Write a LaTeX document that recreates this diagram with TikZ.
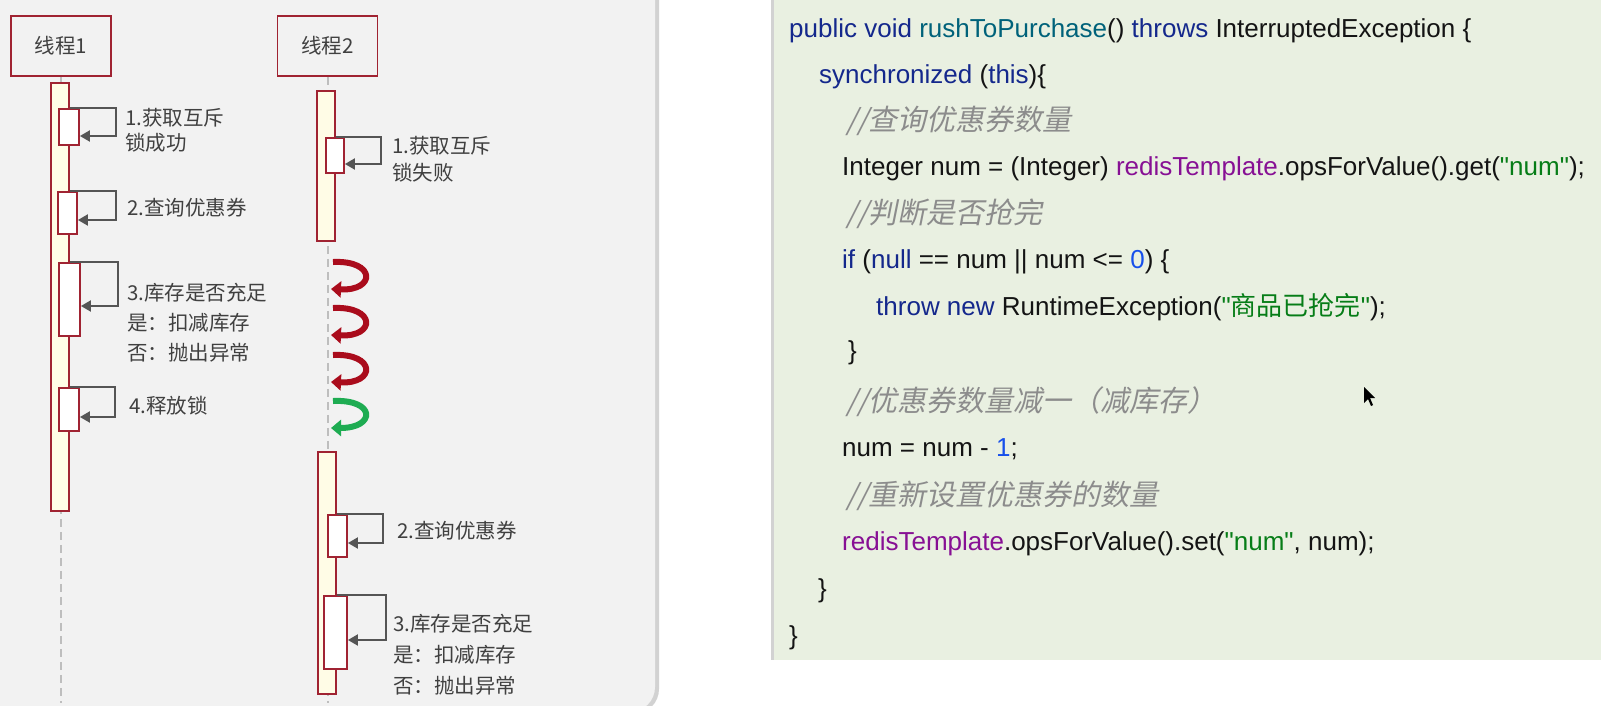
\documentclass[tikz,border=0pt]{standalone}
\usepackage{fontspec}
\setmainfont{Liberation Sans}
\newfontfamily\cjk{Noto Sans CJK SC}
\newfontfamily\cjkit[FakeSlant=0.2]{Noto Sans CJK SC}
\usepackage{xcolor}
\usepackage{tikz}
\usetikzlibrary{arrows.meta, positioning, calc}
\definecolor{panelgray}{RGB}{242,242,242}
\definecolor{panelshadow}{RGB}{210,210,210}
\definecolor{codebg}{RGB}{233,240,225}
\definecolor{myred}{RGB}{160,35,50}
\definecolor{barfill}{RGB}{255,252,230}
\definecolor{loopgray}{RGB}{85,85,85}
\definecolor{lifegray}{RGB}{190,190,190}
\definecolor{txtgray}{RGB}{64,64,64}
\definecolor{arrowred}{RGB}{170,12,28}
\definecolor{arrowgreen}{RGB}{30,172,82}
\definecolor{kwblue}{RGB}{20,40,140}
\definecolor{methteal}{RGB}{0,98,122}
\definecolor{purp}{RGB}{135,16,148}
\definecolor{strgreen}{RGB}{6,125,23}
\definecolor{numblue}{RGB}{23,80,235}
\definecolor{cmtgray}{RGB}{140,140,140}
\definecolor{codetxt}{RGB}{20,20,20}
\newcommand{\dq}{\XeTeXglyph\XeTeXcharglyph"22\relax}
\tikzset{
  thread/.style={rectangle, draw=myred, fill=panelgray, minimum width=100pt,
    minimum height=60pt, line width=1.5pt, text=txtgray,
    font=\cjk\fontsize{20.5}{24}\selectfont},
  actbar/.style={rectangle, draw=myred, fill=barfill, minimum width=18pt,
    line width=1.8pt, inner sep=0pt},
  callbox/.style={rectangle, draw=myred, fill=white, minimum width=19pt,
    line width=1.8pt, inner sep=0pt},
  callarrow/.style={-{Triangle[length=10pt,width=11pt]}, line width=2pt, color=loopgray},
  lifeline/.style={dash pattern=on 8pt off 5pt, line width=2pt, color=lifegray},
  steplabel/.style={anchor=north west, inner sep=0pt, align=left, text=txtgray,
    font=\cjk\fontsize{20.5}{25}\selectfont},
  spinred/.style={-{Triangle[length=10pt,width=16pt]}, line width=6pt, color=arrowred},
  spingreen/.style={-{Triangle[length=10pt,width=16pt]}, line width=6pt, color=arrowgreen},
  codeline/.style={anchor=base west, inner sep=0pt, text=codetxt,
    font=\fontsize{26}{30}\selectfont},
  codecmt/.style={anchor=base west, inner sep=0pt, text=cmtgray,
    font=\cjkit\fontsize{29}{32}\selectfont}
}

\begin{document}
\begin{tikzpicture}[x=1pt, y=-1pt]
  \useasboundingbox (0,0) rectangle (1601,705);

  % Panels
  \fill[panelshadow, rounded corners=25pt] (-30,-30) rectangle (659,714);
  \fill[panelgray, rounded corners=25pt] (-30,-30) rectangle (655,712);
  \fill[panelshadow] (771,0) rectangle (775,660);
  \fill[codebg] (774,0) rectangle (1601,660);

  % Threads
  \node[thread] (t1) at (61,46) {线程1};
  \node[thread, right=165pt of t1] (t2) {线程2};
  \coordinate (l1end) at (61,703);
  \coordinate (l2end) at (t2.south |- 0,703);
  \draw[lifeline] (t1.south) -- (l1end);
  \draw[lifeline] (t2.south) -- (l2end);

  % Activation bars
  \node[actbar, minimum height=428pt] (a1) at (60,297) {};
  \node[actbar, minimum height=150pt] (a2) at (326,166) {};
  \node[actbar, minimum height=242pt] (a3) at (327,573) {};

  % Thread 1 calls
  \node[callbox, minimum width=20pt, minimum height=36pt] (c11) at (69,127) {};
  \node[callbox, minimum height=42pt] (c12) at (67.5,213) {};
  \node[callbox, minimum width=21pt, minimum height=73pt] (c13) at (69.5,299.5) {};
  \node[callbox, minimum width=20pt, minimum height=43pt] (c14) at (69,409.5) {};
  \draw[callarrow] (a1.east |- c11.north) -| (116,136) -- (c11.east |- 0,136);
  \draw[callarrow] (a1.east |- c12.north) -| (116,220) -- (c12.east |- 0,220);
  \draw[callarrow] (a1.east |- c13.north) -| (118,306) -- (c13.east |- 0,306);
  \draw[callarrow] (a1.east |- c14.north) -| (115,417) -- (c14.east |- 0,417);
  \node[steplabel] (s11) at (125,108.5) {1.获取互斥\\锁成功};
  \node[steplabel] (s12) at (127,198.5) {2.查询优惠券};
  \node[steplabel, font=\cjk\fontsize{20.5}{30}\selectfont] (s13) at (127,282.5)
    {3.库存是否充足\\是：扣减库存\\否：抛出异常};
  \node[steplabel] (s14) at (129,395.5) {4.释放锁};

  % Thread 2 calls
  \node[callbox, minimum width=18pt, minimum height=35pt] (c21) at (335,155.5) {};
  \node[callbox, minimum height=42pt] (c22) at (337.5,536) {};
  \node[callbox, minimum width=23pt, minimum height=73pt] (c23) at (335.5,632.5) {};
  \draw[callarrow] (a2.east |- c21.north) -| (381,164) -- (c21.east |- 0,164);
  \draw[callarrow] (a3.east |- c22.north) -| (383,543) -- (c22.east |- 0,543);
  \draw[callarrow] (a3.east |- c23.north) -| (386,640) -- (c23.east |- 0,640);
  \node[steplabel, font=\cjk\fontsize{20.5}{27}\selectfont] (s21) at (392,136.5) {1.获取互斥\\锁失败};
  \node[steplabel] (s22) at (397,521.5) {2.查询优惠券};
  \node[steplabel, font=\cjk\fontsize{20.5}{31}\selectfont] (s23) at (393,613.5)
    {3.库存是否充足\\是：扣减库存\\否：抛出异常};

  % Waiting spins
  \foreach \dy in {0,46,93}
    \draw[spinred] (333,262+\dy) .. controls (376,260+\dy) and (376,291+\dy) .. (331,289+\dy);
  \draw[spingreen] (333,401) .. controls (376,399) and (376,428) .. (331,428);

  % Code
  \node[codeline] (code1) at (789,37) {\textcolor{kwblue}{public void} \textcolor{methteal}{rushToPurchase}() \textcolor{kwblue}{throws} InterruptedException \{};
  \node[codeline] (code2) at (819,83) {\textcolor{kwblue}{synchronized} (\textcolor{kwblue}{this})\{};
  \node[codecmt] (code3) at (846,130) {//查询优惠券数量};
  \node[codeline] (code4) at (842,175) {Integer num = (Integer) \textcolor{purp}{redisTemplate}.opsForValue().get(\textcolor{strgreen}{\dq num\dq});};
  \node[codecmt] (code5) at (846,223) {//判断是否抢完};
  \node[codeline] (code6) at (842,268) {\textcolor{kwblue}{if} (\textcolor{kwblue}{null} == num || num <= \textcolor{numblue}{0}) \{};
  \node[codeline] (code7) at (876,315) {\textcolor{kwblue}{throw new} RuntimeException(\textcolor{strgreen}{\dq{\cjk 商品已抢完}\dq});};
  \node[codeline] (code8) at (848,359) {\}};
  \node[codecmt] (code9) at (846,411) {//优惠券数量减一（减库存）};
  \node[codeline] (code10) at (842,456) {num = num - \textcolor{numblue}{1};};
  \node[codecmt] (code11) at (846,505) {//重新设置优惠券的数量};
  \node[codeline] (code12) at (842,550) {\textcolor{purp}{redisTemplate}.opsForValue().set(\textcolor{strgreen}{\dq num\dq}, num);};
  \node[codeline] (code13) at (818,597) {\}};
  \node[codeline] (code14) at (789,644) {\}};

  % Cursor
  \fill[black] (1364,387) -- (1364,403) -- (1368,399) -- (1371,406) -- (1373,405) -- (1370,398) -- (1375,398) -- cycle;
\end{tikzpicture}
\end{document}
